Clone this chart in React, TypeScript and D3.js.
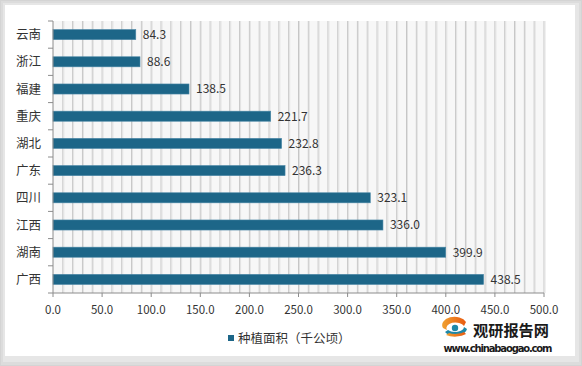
import React from "react";
import * as d3 from "d3";

const categories = ["云南", "浙江", "福建", "重庆", "湖北", "广东", "四川", "江西", "湖南", "广西"];
const values = [84.3, 88.6, 138.5, 221.7, 232.8, 236.3, 323.1, 336.0, 399.9, 438.5];
const xTicks = [0, 50, 100, 150, 200, 250, 300, 350, 400, 450, 500];
const seriesName = "种植面积（千公顷）";

const W = 582;
const H = 366;
const FONT = "'Noto Sans CJK SC', 'Noto Sans', sans-serif";

export default function App() {
  const left = 53;
  const right = 544;
  const top = 21;
  const bottom = 293;
  const x = d3.scaleLinear().domain([0, 500]).range([left, right]);
  const y = d3.scaleBand<string>().domain(categories).range([top, bottom]).paddingInner(0.63).paddingOuter(0.315);
  const band = (bottom - top) / categories.length;
  const grid = d3.range(10, 501, 10);

  return (
    <svg width={W} height={H} style={{ position: "absolute", left: 0, top: 0 }} fontFamily={FONT}>
      <defs>
        <linearGradient id="lg" x1="0" y1="0" x2="1" y2="0">
          <stop offset="0" stopColor="#f0a030" />
          <stop offset="1" stopColor="#e85a10" />
        </linearGradient>
      </defs>
      {/* frame */}
      <rect x={0} y={0} width={W} height={H} fill="#d4d4d4" />
      <rect x={1} y={1} width={W - 2} height={H - 2} fill="#dcdcdc" />
      <rect x={3} y={3} width={W - 6} height={H - 7} fill="#e6e6e6" />
      <rect x={5} y={5} width={570} height={351} fill="#ffffff" />
      {/* plot background */}
      <rect x={left} y={top} width={right - left} height={bottom - top} fill="#f7f7f7" />
      {grid.map((g) => (
        <g key={g}>
          <line x1={x(g)} x2={x(g)} y1={top} y2={bottom} stroke="#c6c6c6" strokeWidth={1} />
          <line x1={x(g) + 1} x2={x(g) + 1} y1={top} y2={bottom} stroke="#e2e2e2" strokeWidth={1} />
        </g>
      ))}
      {/* bars */}
      {categories.map((c, i) => (
        <g key={c}>
          <rect
            x={x(0)}
            y={y(c)!}
            width={x(values[i]) - x(0)}
            height={y.bandwidth()}
            fill="#1d6688"
            stroke="#4a87a6"
            strokeWidth={0.6}
          />
          <text
            x={x(values[i]) + 7}
            y={y(c)! + y.bandwidth() / 2}
            dy="0.36em"
            fontSize={12}
            fill="#333"
          >
            {values[i].toFixed(1)}
          </text>
          <text x={41} y={y(c)! + y.bandwidth() / 2} dy="0.36em" textAnchor="end" fontSize={12.5} fill="#333">
            {c}
          </text>
        </g>
      ))}
      {/* axes */}
      <line x1={left} x2={left} y1={top} y2={bottom} stroke="#8c8c8c" />
      {d3.range(categories.length + 1).map((i) => (
        <line key={i} x1={left - 5} x2={left} y1={top + i * band} y2={top + i * band} stroke="#8c8c8c" />
      ))}
      <line x1={left} x2={right} y1={bottom} y2={bottom} stroke="#8c8c8c" />
      {xTicks.map((t) => (
        <g key={t}>
          <line x1={x(t)} x2={x(t)} y1={bottom} y2={bottom + 4} stroke="#8c8c8c" />
          <text x={x(t)} y={310} dy="0.36em" textAnchor="middle" fontSize={11.5} fill="#333">
            {t.toFixed(1)}
          </text>
        </g>
      ))}
      {/* legend */}
      <rect x={228} y={335} width={6} height={6} fill="#1d6688" />
      <text x={238} y={338.5} dy="0.36em" fontSize={12.5} fill="#333">
        {seriesName}
      </text>
      {/* watermark */}
      <g>
        <path d="M443,328 A12,8 0 0 1 466,322 L464,326 A9,5.5 0 0 0 447,330 Z" fill="url(#lg)" />
        <path d="M445,332 A12,8 0 0 0 467,329 L464,327 A9,5.5 0 0 1 448,330 Z" fill="#1e88a8" />
        <circle cx={455} cy={328} r={3.2} fill="#1e88a8" />
        <path d="M446,335 A14,7 0 0 0 466,334 L464,332 A11,5 0 0 1 449,333 Z" fill="url(#lg)" />
        <text x={473} y={331} dy="0.36em" fontSize={15.2} fontWeight="bold" fill="#1a1a1a">
          观研报告网
        </text>
        <text x={498} y={348.5} dy="0.36em" textAnchor="middle" fontSize={10} fontWeight="bold" fill="#1a1a1a" fontFamily="'DejaVu Sans', sans-serif" textLength={109}>
          www.chinabaogao.com
        </text>
      </g>
    </svg>
  );
}
